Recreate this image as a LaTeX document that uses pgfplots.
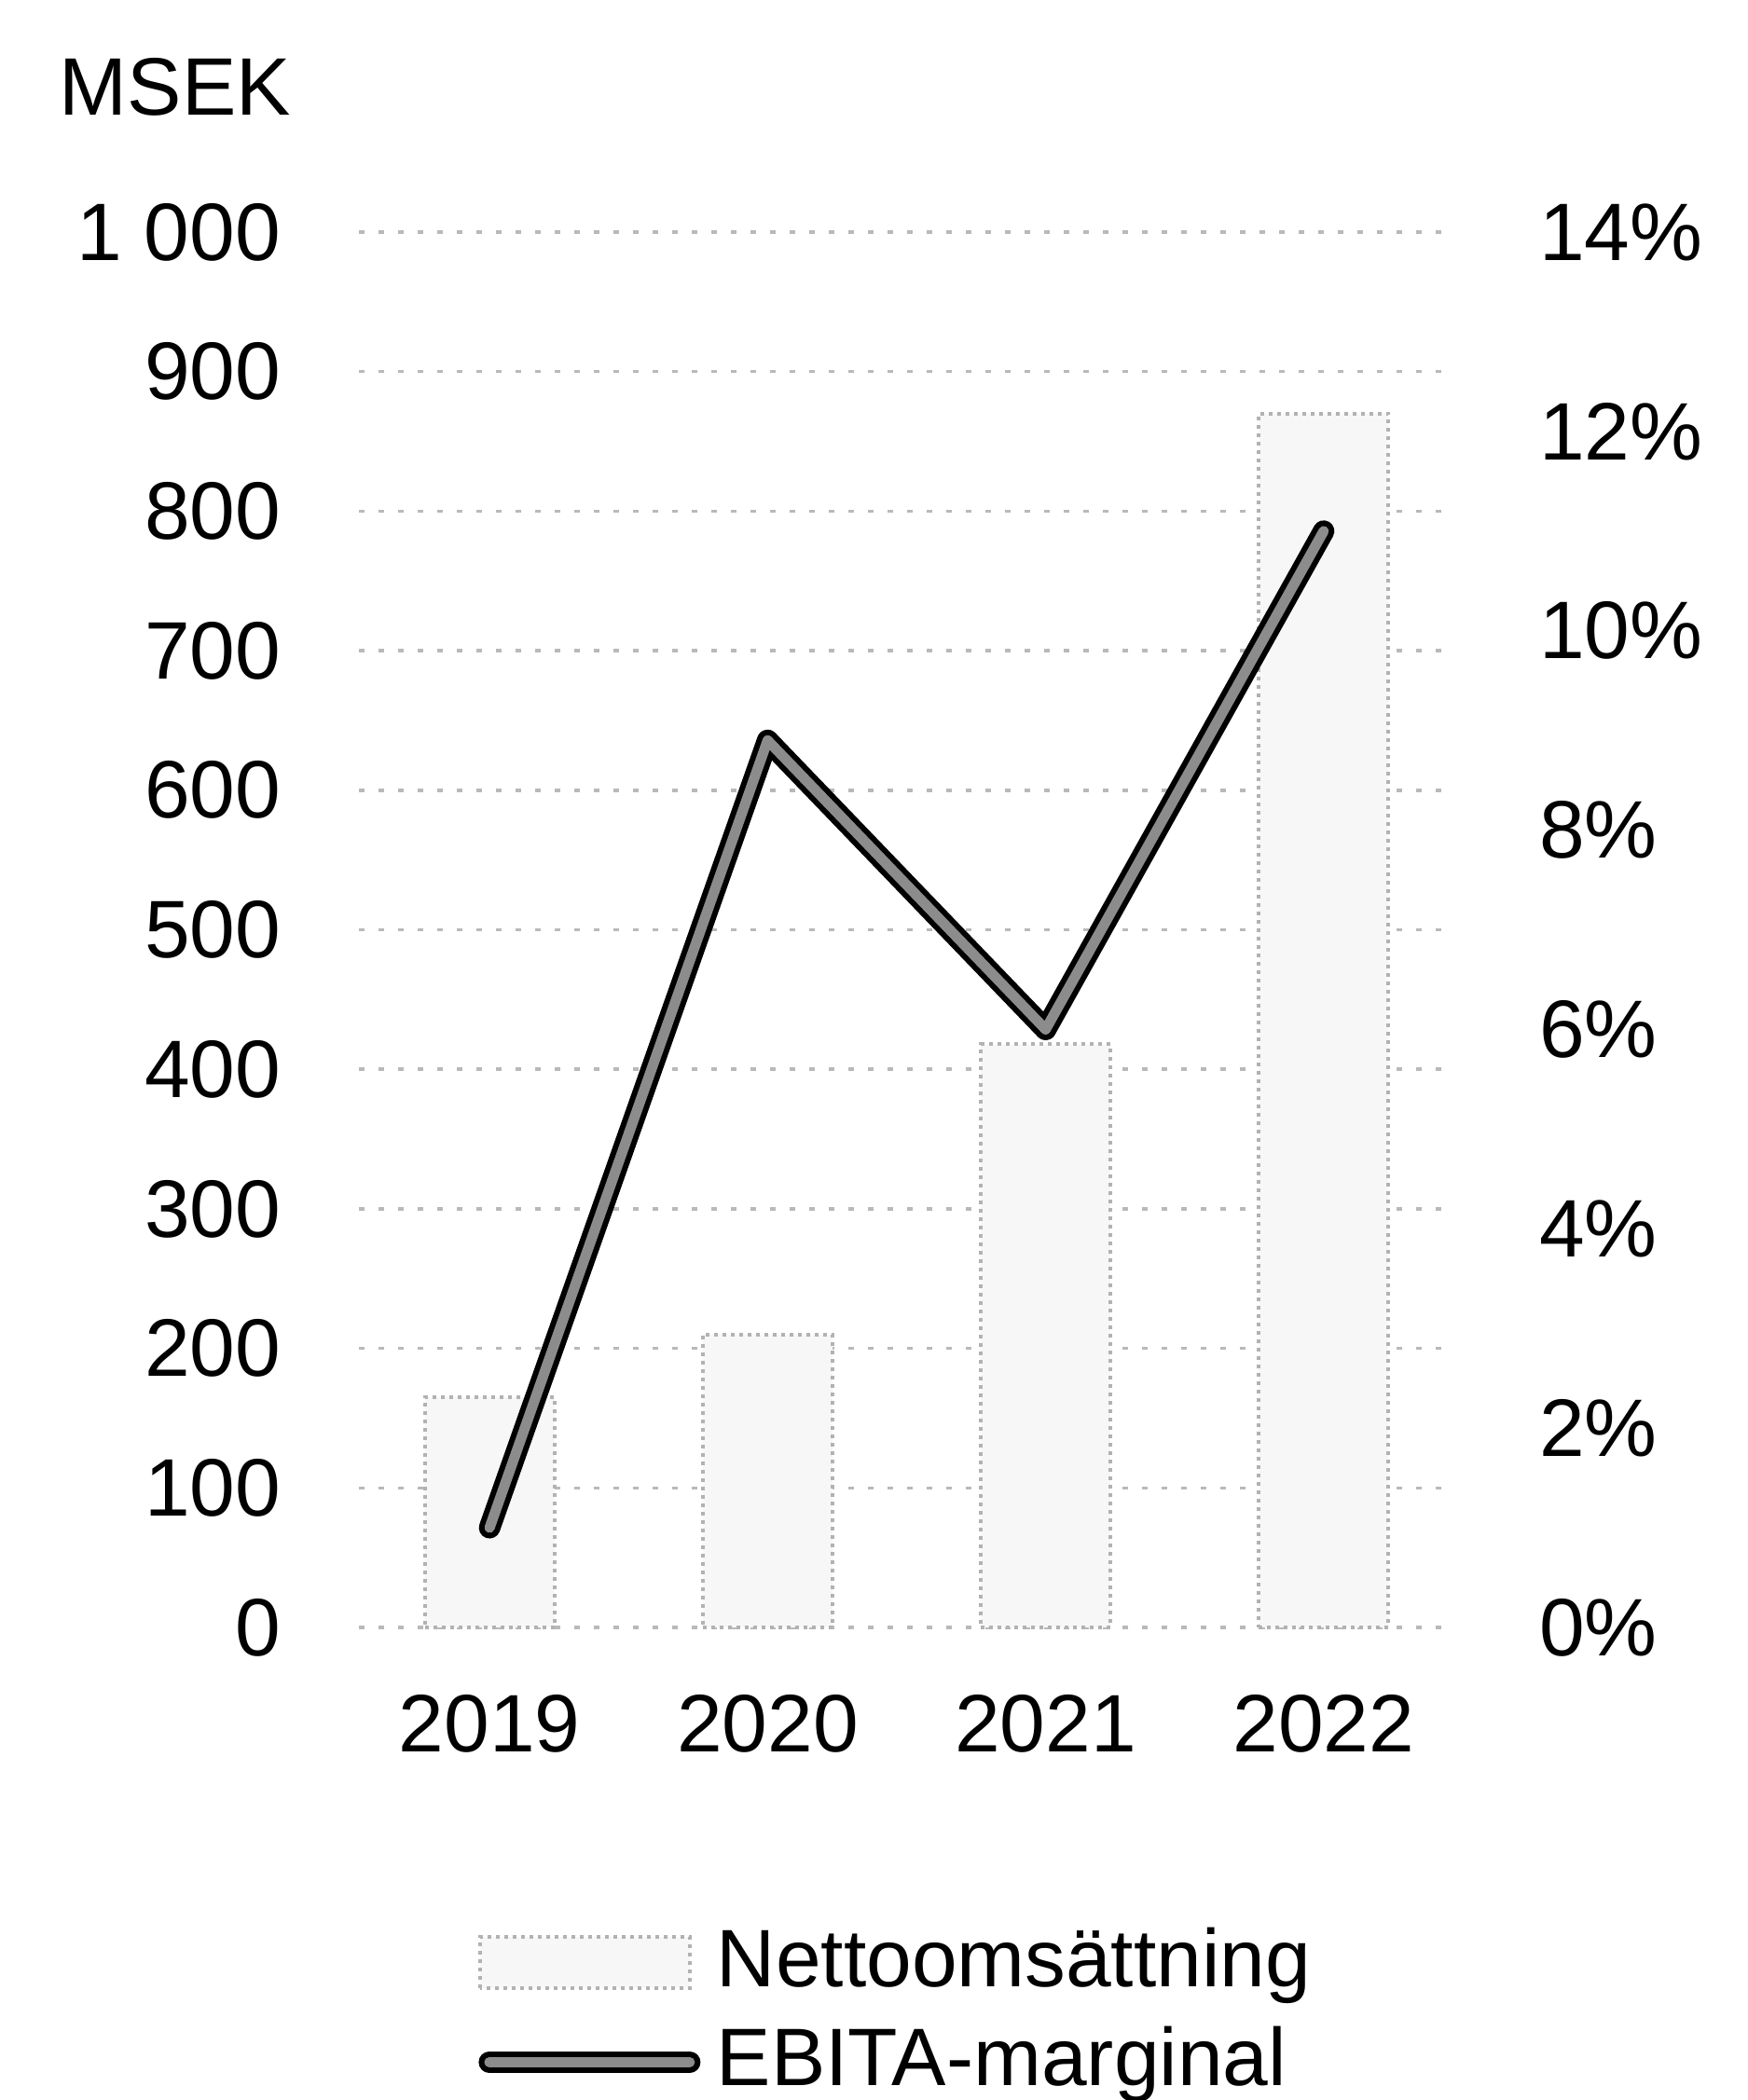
\documentclass[border=0pt]{standalone}
\usepackage{fontspec}
\setmainfont{Liberation Sans}
\usepackage{pgfplots}
\pgfplotsset{compat=1.18}
\begin{document}
\fontsize{17.5}{21}\selectfont
\begin{tikzpicture}
\useasboundingbox (0,0) rectangle (375pt,450.6pt);
\node[anchor=base west, inner sep=0pt, font=\fontsize{17.5}{21}\selectfont] at (12.6pt,425.8pt) {MSEK};
\begin{axis}[
  at={(77pt,101.4pt)}, anchor=south west,
  scale only axis, width=235pt, height=299.4pt,
  xmin=-0.47, xmax=3.47, ymin=0, ymax=1000,
  xtick={0,1,2,3}, xticklabels={2019,2020,2021,2022},
  ytick={0,100,...,1000},
  yticklabels={0,100,200,300,400,500,600,700,800,900,1 000},
  major tick length=0pt,
  axis line style={draw=none},
  ymajorgrids, grid style={gray!55, line width=0.7pt, dash pattern=on 1.2pt off 3pt},
  tick label style={font=\fontsize{17.5}{21}\selectfont, inner sep=0pt},
  yticklabel style={anchor=east, xshift=-16.6pt},
  xticklabel style={anchor=north, yshift=-14.2pt},
  /pgf/number format/assume math mode=true,
  clip=false,
]
\addplot[ybar, bar width=27.8pt, fill=black!3, draw=gray!60, densely dotted, line width=0.8pt]
  coordinates {(0,165) (1,210) (2,418) (3,870)};
\end{axis}
\begin{axis}[
  at={(77pt,101.4pt)}, anchor=south west,
  scale only axis, width=235pt, height=299.4pt,
  xmin=-0.47, xmax=3.47, ymin=0, ymax=14,
  axis x line=none, axis y line*=right,
  ytick={0,2,...,14},
  yticklabels={0\%,2\%,4\%,6\%,8\%,10\%,12\%,14\%},
  major tick length=0pt,
  axis line style={draw=none},
  tick label style={font=\fontsize{17.5}{21}\selectfont, inner sep=0pt},
  yticklabel style={anchor=west, xshift=18pt},
  /pgf/number format/assume math mode=true,
  clip=false,
  legend style={draw=none, fill=none, at={(0.108,-0.276)}, anchor=west,
    font=\fontsize{17.5}{21}\selectfont, inner sep=0pt, row sep=4pt,
    nodes={inner sep=1pt},
    /tikz/every odd column/.append style={column sep=2.5pt}},
  legend cell align=left,
]
\addlegendimage{legend image code/.code={\draw[fill=black!3,draw=gray!60,densely dotted,line width=0.8pt] (0pt,-5.5pt) rectangle (45pt,5.5pt);}}
\addlegendentry{Nettoomsättning}
\addplot[black, line width=4.6pt, line cap=round, line join=round,
  legend image code/.code={\draw[black,line width=4.6pt,line cap=round](2pt,0pt)--(45pt,0pt);
  \draw[black!45,line width=2.2pt,line cap=round](2pt,0pt)--(45pt,0pt);}]
  coordinates {(0,1.0) (1,8.9) (2,6.0) (3,11.0)};
\addlegendentry{EBITA-marginal}
\addplot[black!45, line width=2.2pt, line cap=round, line join=round, forget plot]
  coordinates {(0,1.0) (1,8.9) (2,6.0) (3,11.0)};
\end{axis}
\end{tikzpicture}
\end{document}
